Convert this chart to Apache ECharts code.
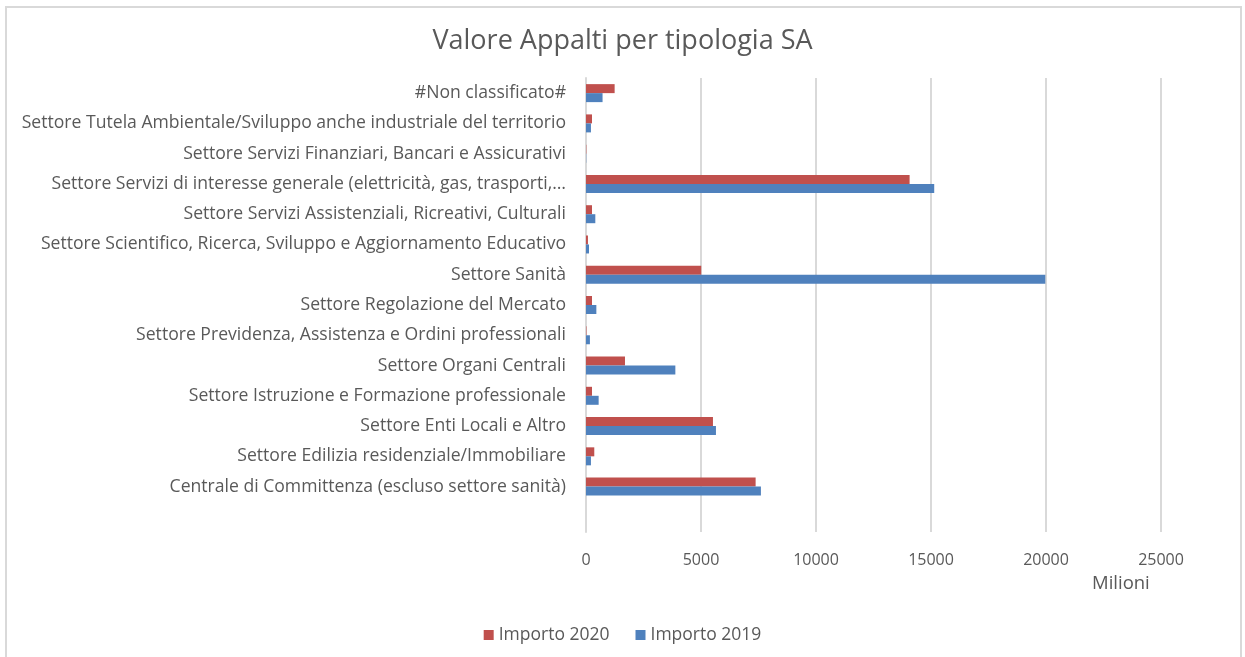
<!DOCTYPE html>
<html>
<head>
<meta charset="utf-8">
<title>Valore Appalti per tipologia SA</title>
<script src="https://cdn.jsdelivr.net/npm/echarts@6/dist/echarts.min.js"></script>
<style>
    html, body { margin: 0; padding: 0; background: #fff; }
    #main { width: 1245px; height: 657px; }
</style>
</head>
<body>
<div id="main"></div>
<script>
// categorie dall'alto verso il basso (l'ultima vuota come nel grafico Excel)
let categorie = [
    '#Non classificato#',
    'Settore Tutela Ambientale/Sviluppo anche industriale del territorio',
    'Settore Servizi Finanziari, Bancari e Assicurativi',
    'Settore Servizi di interesse generale (elettricità, gas, trasporti,…',
    'Settore Servizi Assistenziali, Ricreativi, Culturali',
    'Settore Scientifico, Ricerca, Sviluppo e Aggiornamento Educativo',
    'Settore Sanità',
    'Settore Regolazione del Mercato',
    'Settore Previdenza, Assistenza e Ordini professionali',
    'Settore Organi Centrali',
    'Settore Istruzione e Formazione professionale',
    'Settore Enti Locali e Altro',
    'Settore Edilizia residenziale/Immobiliare',
    'Centrale di Committenza (escluso settore sanità)',
    ''
];

// valori in milioni
let importo2020 = [1245, 260, 15, 14070, 260, 85, 5010, 260, 20, 1695, 260, 5520, 360, 7375, null];
let importo2019 = [720, 215, 10, 15140, 405, 130, 19970, 450, 170, 3885, 550, 5650, 215, 7605, null];

let ticks = [0, 5000, 10000, 15000, 20000, 25000];

let font = 'Open Sans';
let grigio = '#595959';

let myChart = echarts.init(document.getElementById('main'));

let option = {
    backgroundColor: '#fff',
    animation: false,
    title: {
        text: 'Valore Appalti per tipologia SA',
        left: 'center',
        top: 23,
        textStyle: {
            fontFamily: font,
            fontSize: 27,
            fontWeight: 'normal',
            color: grigio
        }
    },
    legend: {
        bottom: 8,
        left: 'center',
        itemWidth: 10,
        itemHeight: 10,
        itemGap: 26,
        icon: 'rect',
        textStyle: { fontFamily: font, fontSize: 17.5, color: grigio },
        data: ['Importo 2020', 'Importo 2019']
    },
    grid: {
        left: 586,
        right: 84,
        top: 78,
        bottom: 125,
        containLabel: false
    },
    xAxis: {
        type: 'value',
        min: ticks[0],
        max: ticks[ticks.length - 1],
        interval: 5000,
        axisLine: { show: false },
        axisTick: { show: false },
        axisLabel: {
            margin: 20,
            fontFamily: font,
            fontSize: 16,
            color: grigio,
            formatter: function (v) { return String(v); }
        },
        splitLine: { lineStyle: { color: '#d9d9d9', width: 2 } }
    },
    yAxis: {
        type: 'category',
        inverse: true,
        data: categorie,
        axisLine: { show: true, lineStyle: { color: '#d9d9d9', width: 2 } },
        axisTick: { show: false },
        axisLabel: {
            margin: 20,
            fontFamily: font,
            fontSize: 17.6,
            color: grigio
        }
    },
    series: [
        {
            name: 'Importo 2020',
            type: 'bar',
            data: importo2020,
            barWidth: 9,
            barGap: '0%',
            itemStyle: { color: '#C0504D' }
        },
        {
            name: 'Importo 2019',
            type: 'bar',
            data: importo2019,
            barWidth: 9,
            barGap: '0%',
            itemStyle: { color: '#4F81BD' }
        }
    ],
    graphic: [
        {
            type: 'rect',
            shape: { x: 6, y: 7, width: 1235, height: 680 },
            style: { fill: 'none', stroke: '#d9d9d9', lineWidth: 2 },
            silent: true,
            z: -1
        },
        {
            type: 'text',
            left: 1092,
            top: 574,
            style: { text: 'Milioni', fontFamily: font, fontSize: 18.5, fill: grigio }
        }
    ]
};
myChart.setOption(option);
</script>
</body>
</html>
